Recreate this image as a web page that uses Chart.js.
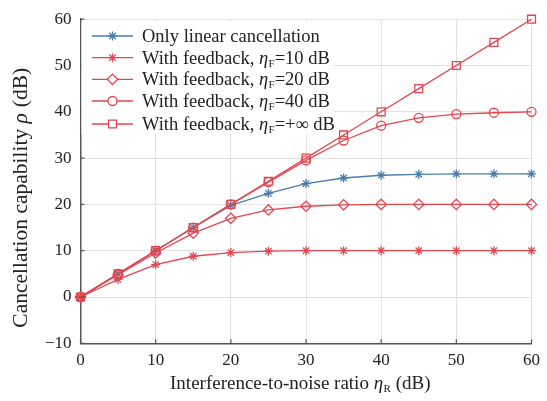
<!DOCTYPE html>
<html>
<head>
<meta charset="utf-8">
<script src="https://cdn.jsdelivr.net/npm/chart.js@4/dist/chart.umd.min.js"></script>
<style>
  html, body { margin: 0; padding: 0; background: #fff; }
</style>
</head>
<body>
<canvas id="chart" width="547" height="401"></canvas>
<script>
// DATA
const snrValues = [0, 5, 10, 15, 20, 25, 30, 35, 40, 45, 50, 55, 60];
const linearOnly = [0, 5, 10, 15, 19.8, 22.4, 24.5, 25.7, 26.3, 26.5, 26.6, 26.6, 26.6];
const feedback10 = [0, 3.8, 7.0, 8.8, 9.6, 9.9, 10, 10, 10, 10, 10, 10, 10];
const feedback20 = [0, 4.8, 9.5, 13.8, 17.0, 18.8, 19.6, 19.9, 20, 20, 20, 20, 20];
const feedback40 = [0, 5, 10, 15, 20, 24.8, 29.5, 33.8, 37.0, 38.7, 39.5, 39.8, 40];
const feedbackInf = [0, 5, 10, 15, 20, 25, 30, 35, 40, 45, 50, 55, 60];
const xTicks = [0, 10, 20, 30, 40, 50, 60];
const yTicks = [-10, 0, 10, 20, 30, 40, 50, 60];

const BLUE = "#4a7dab";
const RED = "#e3464f";
const SERIF = '"Liberation Serif", "Times New Roman", serif';

// legend rows: label parts [text, style]  n = normal, i = italic, s = subscript
const legendRows = [
  { parts: [["Only linear cancellation", "n"]], color: BLUE, style: "star", r: 4.5, y: 36 },
  { parts: [["With feedback, ", "n"], ["η", "i"], ["F", "s"], ["=10 dB", "n"]], color: RED, style: "star", r: 4.5, y: 57.7 },
  { parts: [["With feedback, ", "n"], ["η", "i"], ["F", "s"], ["=20 dB", "n"]], color: RED, style: "rectRot", r: 5.2, y: 79.3 },
  { parts: [["With feedback, ", "n"], ["η", "i"], ["F", "s"], ["=40 dB", "n"]], color: RED, style: "circle", r: 4.5, y: 101 },
  { parts: [["With feedback, ", "n"], ["η", "i"], ["F", "s"], ["=+∞ dB", "n"]], color: RED, style: "rect", r: 5.6, y: 124 },
];

function partFont(style, size) {
  if (style === "i") return "italic " + size + "px " + SERIF;
  if (style === "s") return Math.round(size * 0.58) + "px " + SERIF;
  return size + "px " + SERIF;
}

// draws text with italic / subscript pieces, x is the centre or left
function richText(ctx, parts, x, y, center, size) {
  let total = 0;
  parts.forEach((p) => {
    ctx.font = partFont(p[1], size);
    total += ctx.measureText(p[0]).width;
  });
  let cx = center ? x - total / 2 : x;
  parts.forEach((p) => {
    ctx.font = partFont(p[1], size);
    ctx.fillText(p[0], cx, p[1] === "s" ? y + size * 0.27 : y);
    cx += ctx.measureText(p[0]).width + (p[1] === "i" ? 0.5 : 0);
  });
}

function makeSet(data, color, style, r) {
  return {
    data: data.map((v, i) => ({ x: snrValues[i], y: v })),
    borderColor: color,
    backgroundColor: "rgba(0,0,0,0)",
    borderWidth: 1.3,
    pointStyle: style,
    pointRadius: r,
    pointBorderColor: color,
    pointBackgroundColor: "rgba(0,0,0,0)",
    pointBorderWidth: 1.3,
    tension: 0,
    clip: false,
  };
}

// axis titles, inward ticks and the legend
const extras = {
  id: "extras",
  afterDatasetsDraw(chart) {
    const ctx = chart.ctx;
    const xs = chart.scales.x;
    const ys = chart.scales.y;
    const area = chart.chartArea;
    ctx.save();

    // inward tick marks
    ctx.strokeStyle = "#555";
    ctx.lineWidth = 1.2;
    xTicks.forEach((t) => {
      const px = xs.getPixelForValue(t);
      ctx.beginPath();
      ctx.moveTo(px, area.bottom);
      ctx.lineTo(px, area.bottom - 4);
      ctx.stroke();
    });
    yTicks.forEach((t) => {
      const py = ys.getPixelForValue(t);
      ctx.beginPath();
      ctx.moveTo(area.left, py);
      ctx.lineTo(area.left + 4, py);
      ctx.stroke();
    });

    // legend
    ctx.fillStyle = "#fff";
    ctx.fillRect(area.left + 1, 22, 252, 112);
    legendRows.forEach((row) => {
      const y = row.y;
      ctx.strokeStyle = row.color;
      ctx.lineWidth = 1.3;
      ctx.beginPath();
      ctx.moveTo(92, y);
      ctx.lineTo(133, y);
      ctx.stroke();
      ctx.fillStyle = "#fff";
      Chart.helpers.drawPoint(ctx, { pointStyle: row.style, radius: row.r, rotation: 0, borderWidth: 1.3 }, 112.5, y);
      ctx.fillStyle = "#222";
      ctx.textBaseline = "middle";
      ctx.textAlign = "left";
      richText(ctx, row.parts, 142, y + 1, false, 18.5);
    });

    // axis titles
    ctx.fillStyle = "#222";
    ctx.textBaseline = "middle";
    ctx.textAlign = "left";
    richText(ctx, [["Interference-to-noise ratio ", "n"], ["η", "i"], ["R", "s"], [" (dB)", "n"]], 300, 384, true, 19);
    ctx.save();
    ctx.translate(21, 198);
    ctx.rotate(-Math.PI / 2);
    richText(ctx, [["Cancellation capability ", "n"], ["ρ", "i"], [" (dB)", "n"]], 0, 0, true, 21.5);
    ctx.restore();

    ctx.restore();
  },
};

new Chart(document.getElementById("chart"), {
  type: "line",
  data: {
    datasets: [
      makeSet(feedbackInf, RED, "rect", 5.6),
      makeSet(feedback40, RED, "circle", 4.5),
      makeSet(feedback20, RED, "rectRot", 5.2),
      makeSet(feedback10, RED, "star", 4.5),
      makeSet(linearOnly, BLUE, "star", 4.5),
    ],
  },
  options: {
    responsive: false,
    animation: false,
    devicePixelRatio: 1,
    layout: { padding: { top: 10, right: 14, bottom: 0, left: 0 } },
    plugins: { legend: { display: false }, tooltip: { enabled: false } },
    scales: {
      x: {
        type: "linear",
        min: 0,
        max: 60,
        afterFit: (s) => { s.height = 57.7; },
        afterBuildTicks: (s) => { s.ticks = xTicks.map((v) => ({ value: v })); },
        grid: { color: "#e2e2e2", lineWidth: 1, drawTicks: false },
        border: { color: "#555", width: 1.5 },
        ticks: { color: "#222", padding: 7, maxRotation: 0, font: { family: SERIF, size: 17 } },
      },
      y: {
        min: -10,
        max: 60,
        afterFit: (s) => { s.width = 80.5; },
        afterBuildTicks: (s) => { s.ticks = yTicks.map((v) => ({ value: v })); },
        grid: { color: "#e2e2e2", lineWidth: 1, drawTicks: false },
        border: { color: "#555", width: 1.5 },
        ticks: {
          color: "#222",
          padding: 9,
          font: { family: SERIF, size: 17 },
          callback: (v) => String(v).replace("-", "\u2212"),
        },
      },
    },
  },
  plugins: [extras],
});
</script>
</body>
</html>
